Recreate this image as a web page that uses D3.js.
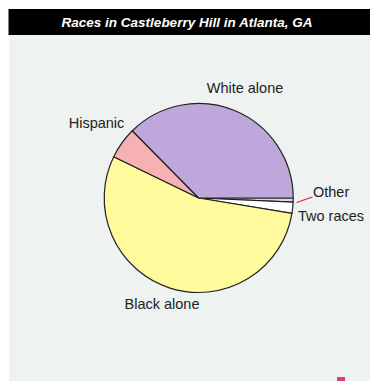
<!DOCTYPE html>
<html>
<head>
<meta charset="utf-8">
<script src="https://cdn.jsdelivr.net/npm/d3@7"></script>
<style>
  body { margin: 0; background: #fff; }
  svg { display: block; font-family: "Liberation Sans", Arial, sans-serif; }
</style>
</head>
<body>
<div id="chart"></div>
<script>
document.addEventListener('DOMContentLoaded', () => {

  // clockwise from 3 o'clock
  const races = ['Other', 'Two races', 'Black alone', 'Hispanic', 'White alone'];
  const shares = [0.7, 1.9, 54.6, 5.4, 37.4];
  const colors = ['#e4d4ee', '#ffffff', '#fffb9c', '#f6b2b2', '#bea7da'];

  const width = 379;
  const height = 381;
  const cx = 198.7;
  const cy = 198;
  const radius = 94.5;

  const svg = d3.select('#chart')
                .append('svg')
                .attr('width', width)
                .attr('height', height);

  svg.append('rect')
     .attr('x', 9).attr('y', 35)
     .attr('width', 361).attr('height', height - 35)
     .attr('fill', '#eef3f1');

  svg.append('rect')
     .attr('x', 8.5).attr('y', 9)
     .attr('width', 361.5).attr('height', 26)
     .attr('fill', '#000');

  svg.append('text')
     .attr('x', 187)
     .attr('y', 27)
     .attr('text-anchor', 'middle')
     .attr('fill', '#fff')
     .attr('font-size', '13.5px')
     .attr('font-weight', 'bold')
     .attr('font-style', 'italic')
     .text('Races in Castleberry Hill in Atlanta, GA');

  const pie = d3.pie()
                .sort(null)
                .startAngle(Math.PI / 2)
                .endAngle(Math.PI / 2 + 2 * Math.PI)
                .value((d, i) => shares[i]);

  const arc = d3.arc().innerRadius(0).outerRadius(radius);

  const g = svg.append('g')
               .attr('transform', 'translate(' + cx + ',' + cy + ')');

  g.selectAll('path')
   .data(pie(races))
   .enter()
   .append('path')
   .attr('d', arc)
   .attr('fill', (d, i) => colors[i])
   .attr('stroke', '#222')
   .attr('stroke-width', 1.2)
   .attr('stroke-linejoin', 'round');

  // labels
  const labels = [
    { name: 'White alone', x: 245, y: 93, anchor: 'middle' },
    { name: 'Hispanic', x: 96.5, y: 128, anchor: 'middle' },
    { name: 'Black alone', x: 162, y: 309, anchor: 'middle' },
    { name: 'Other', x: 313, y: 197, anchor: 'start' },
    { name: 'Two races', x: 298, y: 221, anchor: 'start' }
  ];

  svg.selectAll('text.lbl')
     .data(labels)
     .enter()
     .append('text')
     .attr('class', 'lbl')
     .attr('x', d => d.x)
     .attr('y', d => d.y)
     .attr('text-anchor', d => d.anchor)
     .attr('font-size', '14.5px')
     .attr('fill', '#222')
     .text(d => d.name);

  svg.append('line')
     .attr('x1', 296.5).attr('y1', 202.5)
     .attr('x2', 312.5).attr('y2', 197)
     .attr('stroke', '#e8202a')
     .attr('stroke-width', 1.3);

  svg.append('rect')
     .attr('x', 337).attr('y', 377)
     .attr('width', 8).attr('height', 4)
     .attr('fill', '#d9446a');

});
</script>
</body>
</html>
